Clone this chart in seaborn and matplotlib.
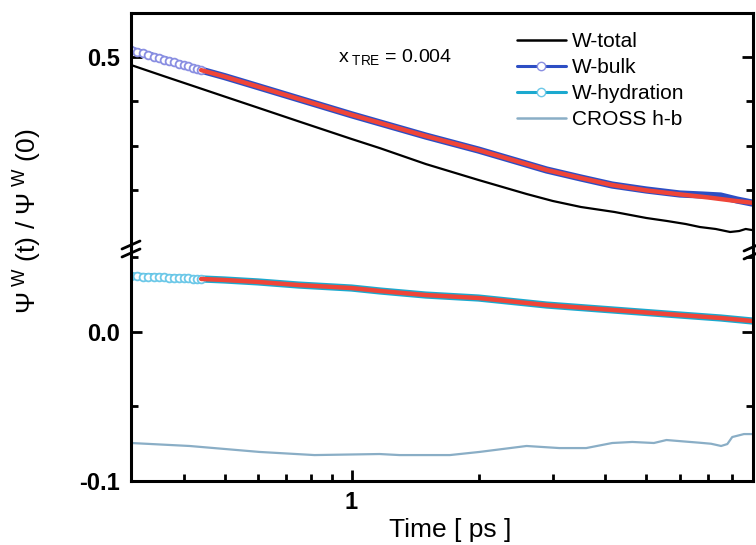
import numpy as np
import pandas as pd
import matplotlib
matplotlib.use("Agg")
import matplotlib.pyplot as plt
import seaborn as sns
from matplotlib.ticker import FixedLocator, FixedFormatter, NullFormatter
from matplotlib.lines import Line2D

# ---------------- data ----------------
bulk_t = [0.30, 0.31, 0.32, 0.33, 0.34, 0.35, 0.36, 0.37, 0.38, 0.39, 0.40, 0.41,
          0.42, 0.43, 0.44, 0.50, 0.60, 0.75, 1.0, 1.17, 1.5, 2.0, 2.5, 2.9, 3.5,
          4.15, 5.0, 6.0, 6.8, 7.5, 8.2, 8.9]
bulk_v = [0.5080, 0.5060, 0.5042, 0.5023, 0.5005, 0.4988, 0.4971, 0.4955, 0.4939,
          0.4924, 0.4909, 0.4894, 0.4880, 0.4866, 0.4852, 0.4779, 0.4666, 0.4527,
          0.4348, 0.4255, 0.4108, 0.3950, 0.3815, 0.3725, 0.3634, 0.3555, 0.3499,
          0.3454, 0.3442, 0.3431, 0.3386, 0.3352]

bulk_fit_t = [0.44, 0.50, 0.60, 0.75, 1.0, 1.5, 2.0, 2.5, 2.9, 3.5, 4.15, 5.0, 6.0, 7.0, 8.0, 8.9]
bulk_fit_v = [0.4852, 0.4779, 0.4666, 0.4527, 0.4348, 0.4108, 0.3950, 0.3815, 0.3725,
              0.3634, 0.3555, 0.3495, 0.3450, 0.3415, 0.3380, 0.3355]

total_t = [0.30, 0.36, 0.44, 0.50, 0.60, 0.75, 0.84, 1.0, 1.17, 1.5, 2.0, 2.6, 3.0,
           3.5, 4.2, 5.0, 5.6, 6.2, 6.7, 7.3, 7.9, 8.3, 8.6, 8.9]
total_v = [0.4910, 0.4782, 0.4643, 0.4554, 0.4428, 0.4273, 0.4195, 0.4075, 0.3970,
           0.3792, 0.3612, 0.3454, 0.3375, 0.3307, 0.3251, 0.3183, 0.3149, 0.3115,
           0.3081, 0.3059, 0.3025, 0.3036, 0.3059, 0.3047]

hyd_t = [0.30, 0.31, 0.32, 0.33, 0.34, 0.35, 0.36, 0.37, 0.38, 0.39, 0.40, 0.41,
         0.42, 0.43, 0.44, 0.50, 0.60, 0.75, 1.0, 1.17, 1.5, 2.0, 2.9, 4.15, 6.0, 7.5, 8.9]
hyd_v = [0.0376, 0.0374, 0.0372, 0.0371, 0.0369, 0.0368, 0.0366, 0.0365, 0.0363,
         0.0362, 0.0361, 0.0360, 0.0358, 0.0357, 0.0356, 0.0349, 0.0336, 0.0315,
         0.0295, 0.0275, 0.0248, 0.0228, 0.0181, 0.0148, 0.0114, 0.0094, 0.0074]

hyd_fit_t = [0.44, 0.50, 0.60, 0.75, 1.0, 1.17, 1.5, 2.0, 2.9, 4.15, 6.0, 7.5, 8.9]
hyd_fit_v = [0.0356, 0.0349, 0.0336, 0.0315, 0.0295, 0.0275, 0.0248, 0.0228, 0.0181,
             0.0148, 0.0114, 0.0094, 0.0074]

cross_t = [0.30, 0.413, 0.605, 0.817, 1.165, 1.30, 1.71, 2.01, 2.60, 3.11, 3.60, 4.15,
           4.63, 5.21, 5.58, 6.16, 6.68, 7.12, 7.52, 7.78, 7.99, 8.52, 8.9]
cross_v = [-0.0745, -0.0765, -0.0805, -0.0826, -0.0819, -0.0826, -0.0826, -0.0805,
           -0.0765, -0.0779, -0.0779, -0.0745, -0.0738, -0.0745, -0.0725, -0.0735,
           -0.0743, -0.0750, -0.0765, -0.0752, -0.0705, -0.0685, -0.0685]

series_labels = ["W-total", "W-bulk", "W-hydration", "CROSS h-b"]
top_ticks_major = [0.5]
top_ticks_minor = [0.45, 0.40, 0.35]
bot_ticks_major = [-0.1, 0.0]
bot_tick_labels = ["-0.1", "0.0"]
bot_ticks_minor = [-0.05, 0.05]
x_ticks_major = [1]
x_tick_labels = ["1"]
x_ticks_minor = [0.4, 0.5, 0.6, 0.7, 0.8, 0.9, 2, 3, 4, 5, 6, 7, 8]
n_marked = 15  # open-circle points visible before the fit starts

# ---------------- style ----------------
sns.set_theme(style="ticks")
plt.rcParams["font.family"] = ["Liberation Sans", "DejaVu Sans"]
plt.rcParams["mathtext.fontset"] = "custom"
plt.rcParams["mathtext.rm"] = "Liberation Sans"
plt.rcParams["mathtext.it"] = "Liberation Sans:italic"
plt.rcParams["mathtext.bf"] = "Liberation Sans:bold"
plt.rcParams["mathtext.default"] = "regular"
for k in ("text.color", "axes.labelcolor", "xtick.color", "ytick.color", "axes.edgecolor"):
    plt.rcParams[k] = "black"

C_TOTAL = "#000000"
C_BULK = "#2d4ec4"
C_BULK_M = "#8a8fe2"
C_HYD = "#1ba9cf"
C_HYD_M = "#6cc8e8"
C_CROSS = "#8aaec6"
C_FIT = "#ef4538"

W, H = 756, 545
fig = plt.figure(figsize=(W / 100, H / 100), dpi=100)
x0, x1 = 131, 753
y_top, y_brk, y_bot = 13, 249, 481
ax_top = fig.add_axes([x0 / W, 1 - y_brk / H, (x1 - x0) / W, (y_brk - y_top) / H])
ax_bot = fig.add_axes([x0 / W, 1 - y_bot / H, (x1 - x0) / W, (y_bot - y_brk) / H])

df_bulk = pd.DataFrame({"t": bulk_t, "v": bulk_v})
df_bulk_fit = pd.DataFrame({"t": bulk_fit_t, "v": bulk_fit_v})
df_total = pd.DataFrame({"t": total_t, "v": total_v})
df_hyd = pd.DataFrame({"t": hyd_t, "v": hyd_v})
df_hyd_fit = pd.DataFrame({"t": hyd_fit_t, "v": hyd_fit_v})
df_cross = pd.DataFrame({"t": cross_t, "v": cross_v})

# upper panel
sns.lineplot(data=df_total, x="t", y="v", ax=ax_top, color=C_TOTAL, lw=1.6, sort=False)
sns.lineplot(data=df_bulk, x="t", y="v", ax=ax_top, color=C_BULK, lw=5.2, sort=False)
ax_top.plot(df_bulk["t"], df_bulk["v"], ls="none", marker="o", ms=5.6,
            mfc="white", mec=C_BULK_M, mew=1.3, markevery=slice(0, n_marked))
sns.lineplot(data=df_bulk_fit, x="t", y="v", ax=ax_top, color=C_FIT, lw=3.2, sort=False)

# lower panel
sns.lineplot(data=df_hyd, x="t", y="v", ax=ax_bot, color=C_HYD, lw=5.2, sort=False)
ax_bot.plot(df_hyd["t"], df_hyd["v"], ls="none", marker="o", ms=5.6,
            mfc="white", mec=C_HYD_M, mew=1.3, markevery=slice(0, n_marked))
sns.lineplot(data=df_hyd_fit, x="t", y="v", ax=ax_bot, color=C_FIT, lw=3.2, sort=False)
sns.lineplot(data=df_cross, x="t", y="v", ax=ax_bot, color=C_CROSS, lw=1.6, sort=False)

for ax in (ax_top, ax_bot):
    ax.set_xscale("log")
    ax.set_xlim(0.3, 8.95)
    ax.set_xlabel("")
    ax.set_ylabel("")
    for s in ax.spines.values():
        s.set_linewidth(2.2)
        s.set_color("black")
    ax.tick_params(which="both", direction="in", width=2.0, color="black",
                   labelcolor="black", left=True, right=True, top=False,
                   labelsize=17, pad=8)
    ax.tick_params(which="major", length=8)
    ax.tick_params(which="minor", length=5)
    ax.xaxis.set_major_locator(FixedLocator(x_ticks_major))
    ax.xaxis.set_major_formatter(FixedFormatter(x_tick_labels))
    ax.xaxis.set_minor_locator(FixedLocator(x_ticks_minor))
    ax.xaxis.set_minor_formatter(NullFormatter())
    if ax.get_legend():
        ax.get_legend().remove()

ax_top.set_ylim(0.2833, 0.5497)
ax_top.spines["bottom"].set_visible(False)
ax_top.tick_params(axis="x", which="both", bottom=False, labelbottom=False)
ax_top.yaxis.set_major_locator(FixedLocator(top_ticks_major))
ax_top.yaxis.set_major_formatter(FixedFormatter(["0.5"]))
ax_top.yaxis.set_minor_locator(FixedLocator(top_ticks_minor))
ax_top.yaxis.set_minor_formatter(NullFormatter())

ax_bot.set_ylim(-0.1, 0.0557)
ax_bot.spines["top"].set_visible(False)
ax_bot.yaxis.set_major_locator(FixedLocator(bot_ticks_major))
ax_bot.yaxis.set_major_formatter(FixedFormatter(bot_tick_labels))
ax_bot.yaxis.set_minor_locator(FixedLocator(bot_ticks_minor))
ax_bot.yaxis.set_minor_formatter(NullFormatter())
ax_bot.tick_params(axis="x", pad=7)

for lab in ax_top.get_yticklabels() + ax_bot.get_yticklabels() + ax_bot.get_xticklabels():
    lab.set_fontweight("bold")

# x label
ax_bot.set_xlabel("Time [ ps ]", fontsize=19)
ax_bot.xaxis.set_label_coords((450 - x0) / (x1 - x0), (y_bot - 530) / (y_bot - y_brk))
ax_bot.xaxis.label.set_va("center")

# y label
fig.text(28 / W, 1 - 221 / H, r"Ψ$^{\ W}$ (t) / Ψ$^{\ W}$ (0)", rotation=90,
         ha="center", va="center", fontsize=19)

# annotation
fig.text(338 / W, 1 - 62 / H, r"x$_{\ TRE}$ = 0.004", ha="left", va="baseline", fontsize=14)

# break marks
for xb, dy in ((x0, 0), (x1, 2)):
    for yb in (245 + dy, 253 + dy):
        fig.add_artist(Line2D([(xb - 9) / W, (xb + 9) / W],
                              [1 - (yb + 4) / H, 1 - (yb - 4) / H],
                              color="black", lw=2.0, transform=fig.transFigure))

# legend
handles = [
    Line2D([], [], color=C_TOTAL, lw=1.8),
    Line2D([], [], color=C_BULK, lw=2.2, marker="o", ms=6, mfc="white", mec=C_BULK_M, mew=1.0),
    Line2D([], [], color=C_HYD, lw=2.2, marker="o", ms=6, mfc="white", mec=C_HYD_M, mew=1.0),
    Line2D([], [], color=C_CROSS, lw=1.8),
]
ax_top.legend(handles, series_labels, loc="upper left",
              bbox_to_anchor=(517 / W, 1 - 32 / H), bbox_transform=fig.transFigure,
              frameon=False, fontsize=15, handlelength=2.35, handletextpad=0.3,
              labelspacing=0.34, borderpad=0, borderaxespad=0)

fig.savefig("out.png", dpi=100)
